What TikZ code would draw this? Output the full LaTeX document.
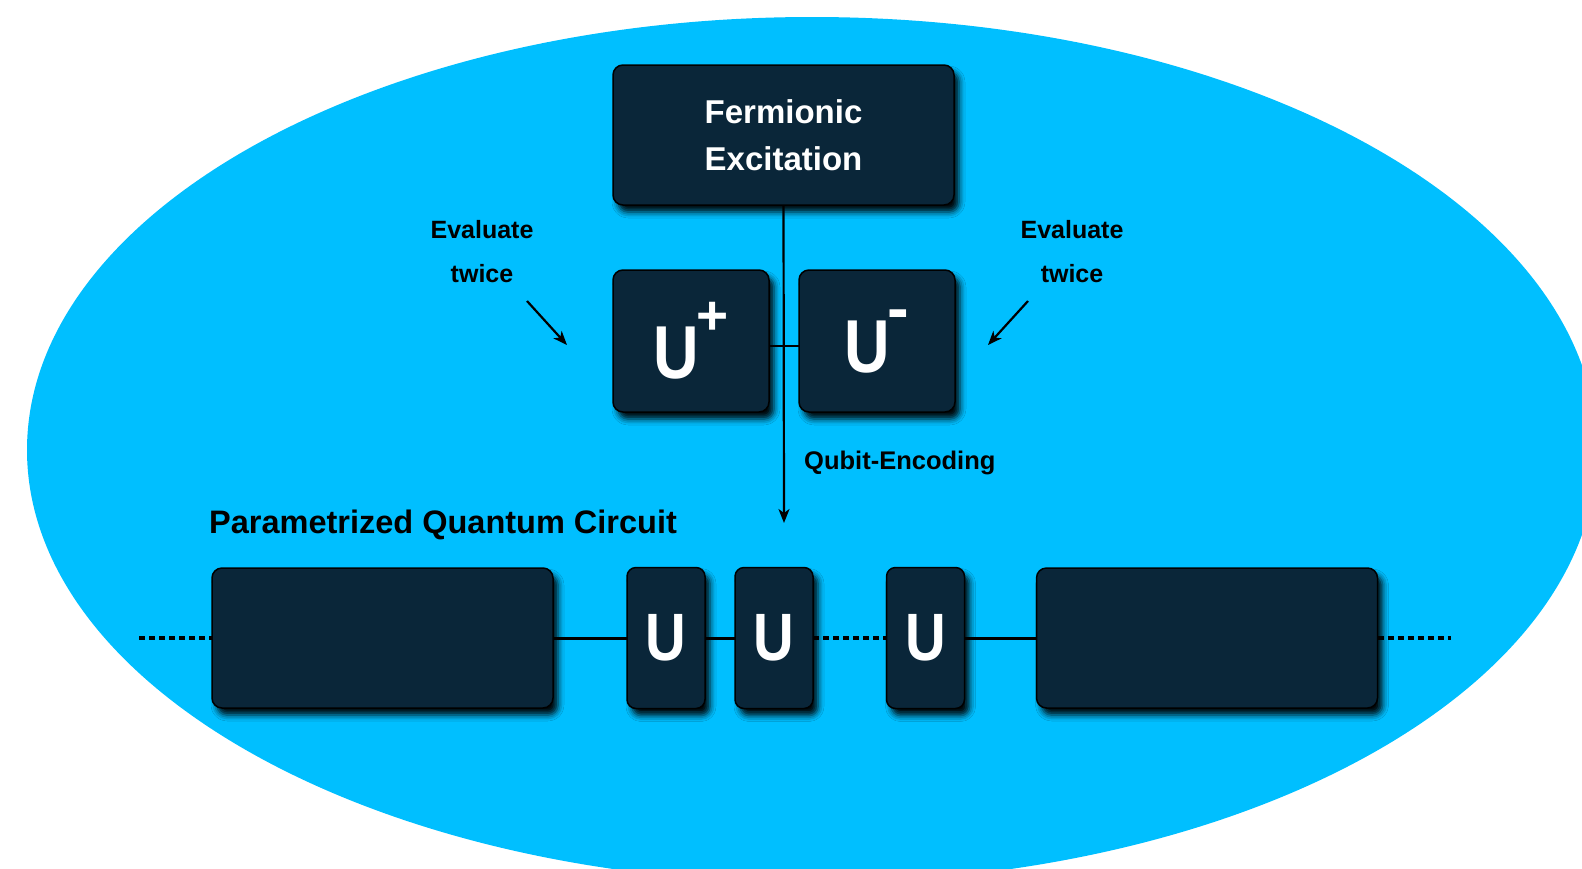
\documentclass[tikz,border=0pt]{standalone}
\usepackage{fontspec}
\setmainfont{Liberation Sans}
\usetikzlibrary{shadows.blur,arrows.meta,calc}
\definecolor{skyb}{HTML}{00BFFF}
\definecolor{navy}{HTML}{0A2639}
\newcommand{\narrowU}{\scalebox{0.84}[1]{U}}
\begin{document}
\begin{tikzpicture}[x=1pt,y=-1pt,
  box/.style={fill=navy, draw=black, line width=1.5pt, rounded corners=10pt,
    inner sep=0pt, outer sep=0pt, text=white, font=\bfseries,
    blur shadow={shadow xshift=5pt, shadow yshift=-7pt, shadow blur radius=6pt, shadow opacity=95}},
  bigbox/.style={box, minimum width=341pt, minimum height=140pt},
  ubox/.style={box, minimum width=156pt, minimum height=142pt},
  sbox/.style={box, minimum width=78pt, minimum height=141pt, rounded corners=9pt},
  note/.style={font=\bfseries\fontsize{25}{44}\selectfont, text=black, align=center, inner sep=0pt},
  arr/.style={line width=2.2pt, -{Stealth[length=14pt,width=11pt,inset=4pt]}},
  wire/.style={line width=3pt},
  dotw/.style={line width=3.5pt, dash pattern=on 6pt off 4pt}]
\useasboundingbox (0,0) rectangle (1582,868);
\clip (0,0) rectangle (1582,868);
\fill[skyb] (812,450) ellipse [x radius=785pt, y radius=433pt];

% top part
\node[bigbox, font=\bfseries\fontsize{33}{47}\selectfont, align=center] (fe) at (783.5,135) {Fermionic\\Excitation};
\coordinate (tip) at (784,523);
\draw[arr] (fe.south) -- (tip);
\node[ubox] (up) at (691,341) {\fontsize{75}{75}\selectfont\narrowU\kern-3pt\raisebox{44pt}{\fontsize{55}{55}\selectfont +}};
\node[ubox] (um) at (877,341) {\fontsize{75}{75}\selectfont\narrowU\kern-2pt\raisebox{42pt}{\fontsize{65}{65}\selectfont -}};
\draw[line width=2.2pt] ($(up.east)+(0,5)$) -- ($(um.west)+(0,5)$);

\node[note] (evl) at (482,252) {Evaluate\\twice};
\node[note] (evr) at (1072,252) {Evaluate\\twice};
\coordinate (al0) at (527,301); \coordinate (al1) at (567,345);
\coordinate (ar0) at (1028,301); \coordinate (ar1) at (988,345);
\draw[arr] (al0) -- (al1);
\draw[arr] (ar0) -- (ar1);
\node[note, font=\bfseries\fontsize{25.5}{44}\selectfont, anchor=west] (qe) at (804,463) {Qubit-Encoding};
\node[font=\bfseries\fontsize{32.5}{32.5}\selectfont, anchor=west, inner sep=0pt] (pqc) at (209,525) {Parametrized Quantum Circuit};

% circuit
\coordinate (wl) at (139,638);
\coordinate (wr) at (1451,638);
\node[bigbox] (b1) at (382.5,638) {};
\node[sbox, font=\bfseries\fontsize{67}{67}\selectfont] (u1) at (666,638) {\narrowU};
\node[sbox, font=\bfseries\fontsize{67}{67}\selectfont] (u2) at (774,638) {\narrowU};
\node[sbox, font=\bfseries\fontsize{67}{67}\selectfont] (u3) at (925.5,638) {\narrowU};
\node[bigbox] (b2) at (1207,638) {};
\draw[dotw] (wl) -- (b1.west);
\draw[wire] (b1.east) -- (u1.west);
\draw[wire] (u1.east) -- (u2.west);
\draw[dotw] (u2.east) -- (u3.west);
\draw[wire] (u3.east) -- (b2.west);
\draw[dotw] (b2.east) -- (wr);
\end{tikzpicture}
\end{document}
